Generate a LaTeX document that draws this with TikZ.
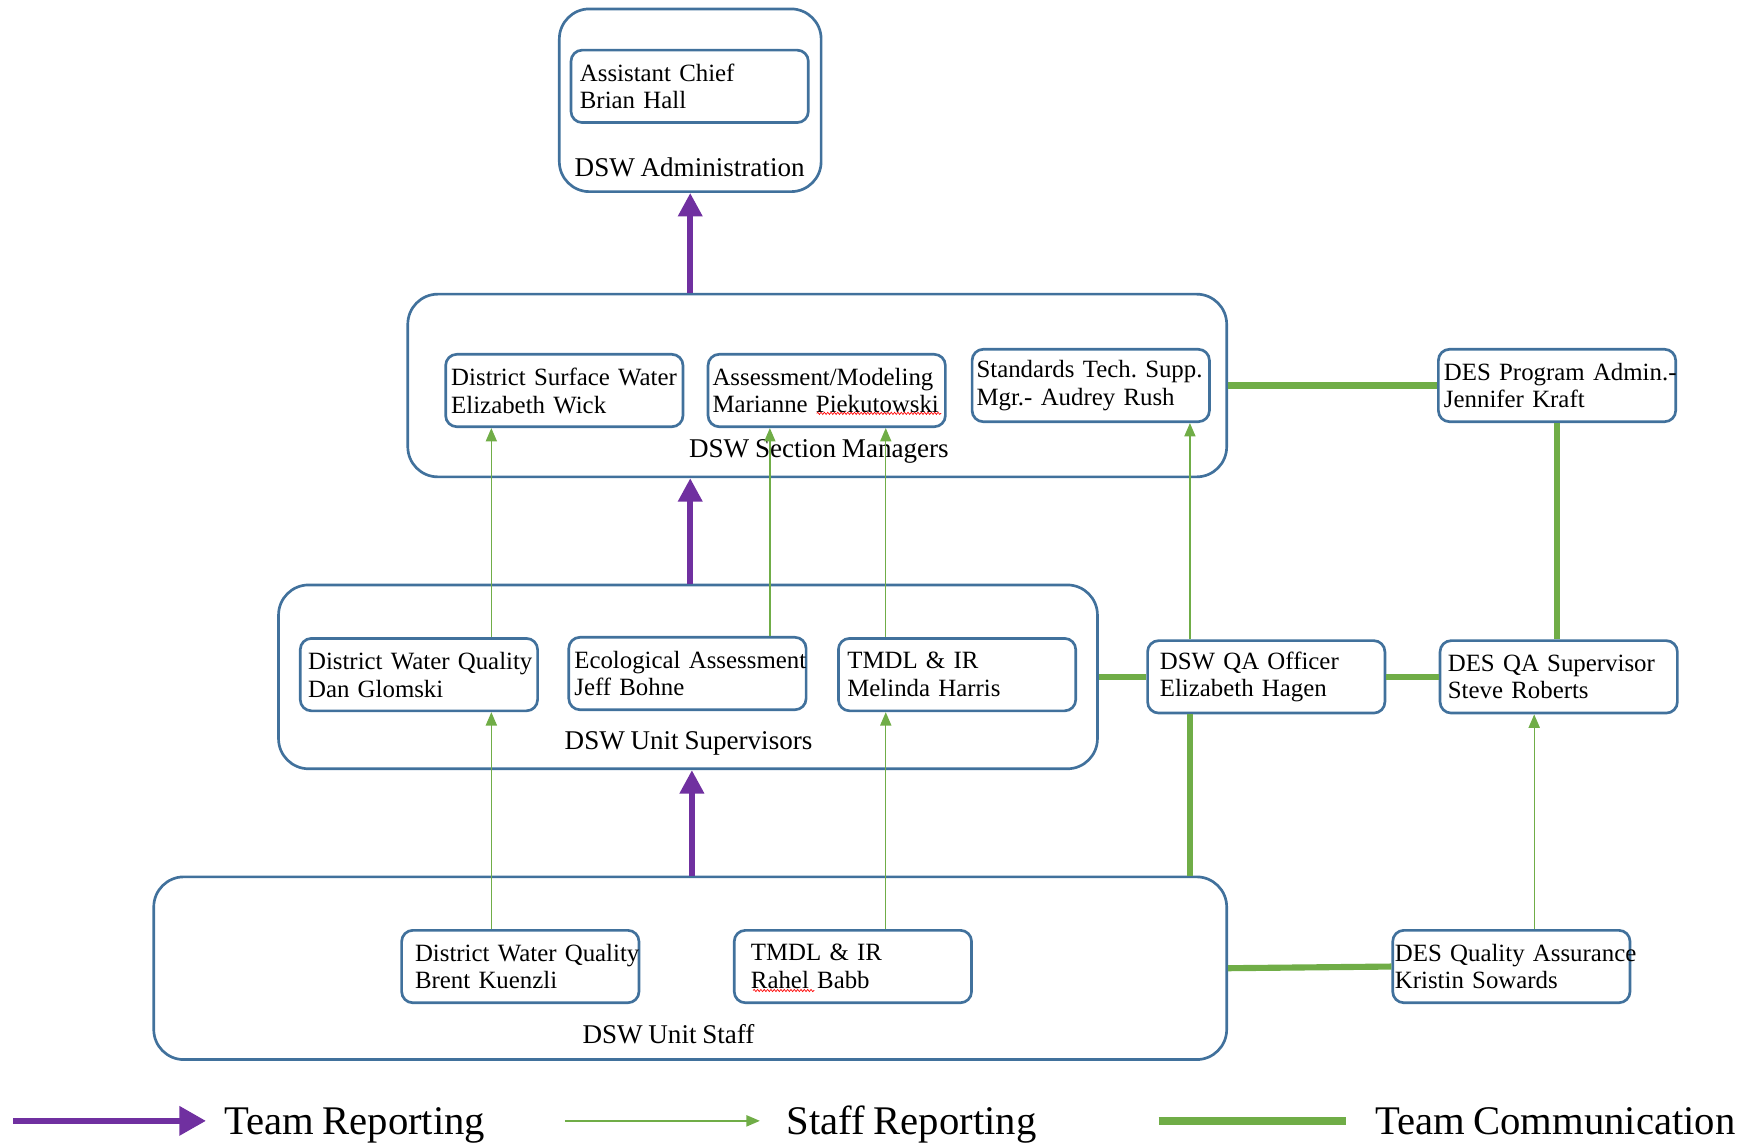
\documentclass[tikz,border=0pt]{standalone}
\usepackage{fontspec}
\setmainfont{Liberation Serif}[WordSpace=0.85]
\usetikzlibrary{arrows.meta,decorations.pathmorphing}
\definecolor{boxblue}{RGB}{65,113,156}
\definecolor{teampurple}{RGB}{112,48,160}
\definecolor{commgreen}{RGB}{112,173,71}
\newcommand{\oneline}[1]{\mbox{#1}}
\frenchspacing
\begin{document}
\begin{tikzpicture}[x=1pt,y=-1pt,
  person/.style={draw=boxblue, line width=2.4pt, rounded corners=10pt, align=left,
    inner xsep=7pt, inner ysep=0pt, minimum width=213pt, text width=199pt,
    minimum height=65pt, font=\fontsize{22.3}{25}\selectfont},
  group/.style={draw=boxblue, line width=2.4pt, rounded corners=27pt, inner sep=0pt},
  grouplabel/.style={font=\fontsize{24.3}{28}\selectfont, inner sep=0pt},
  legendtext/.style={font=\fontsize{36.5}{40}\selectfont, inner sep=0pt, anchor=base west},
  teamrep/.style={draw=teampurple, line width=5pt, -{Triangle[width=21pt,length=21pt]}},
  staffrep/.style={draw=commgreen, line width=1.2pt, -{Triangle[width=10pt,length=12pt]}},
  teamcomm/.style={draw=commgreen, line width=5.5pt},
  spell/.style={draw=red, line width=0.6pt, decorate, decoration={snake, amplitude=1pt, segment length=3pt}}
]
\useasboundingbox (0,0) rectangle (1568,1026);

% group boxes
\node[group, minimum width=235pt, minimum height=164pt] (admin) at (619.5,90) {};
\node[group, minimum width=735pt, minimum height=164pt] (sec) at (733.5,346) {};
\node[group, minimum width=735pt, minimum height=165pt] (unitsup) at (617.5,607.5) {};
\node[group, minimum width=963pt, minimum height=164pt] (staff) at (619.5,869) {};

% group labels
\node[grouplabel] (adminlbl) at (619,150) {DSW Administration};
\node[grouplabel] (seclbl) at (735,405) {DSW Section Managers};
\node[grouplabel] (unitsuplbl) at (618,667) {DSW Unit Supervisors};
\node[grouplabel] (stafflbl) at (600,928) {DSW Unit Staff};

% person boxes
\node[person, inner xsep=8pt, text width=197pt] (chief) at (619,77.5) {\oneline{Assistant Chief}\\\oneline{Brian Hall}};
\node[person, inner xsep=5pt, text width=203pt] (dsw) at (506.5,350.5) {\oneline{District Surface Water}\\\oneline{Elizabeth Wick}};
\node[person, inner xsep=4pt, text width=205pt] (am) at (742,350.5) {\oneline{Assessment/Modeling}\\\oneline{Marianne Piekutowski}};
\node[person, inner xsep=4pt, text width=205pt] (sts) at (979,346) {\oneline{Standards Tech. Supp.}\\\oneline{Mgr.- Audrey Rush}};
\node[person, inner xsep=5pt, text width=203pt] (desadmin) at (1397.5,346) {\oneline{DES Program Admin.-}\\\oneline{Jennifer Kraft}};

\node[person] (dwq) at (376,605.5) {\oneline{District Water Quality}\\\oneline{Dan Glomski}};
\node[person, inner xsep=5pt, text width=203pt] (ea) at (617,604.5) {\oneline{Ecological Assessment}\\\oneline{Jeff Bohne}};
\node[person, inner xsep=8pt, text width=197pt] (tmdl) at (859,605.5) {\oneline{TMDL \& IR}\\\oneline{Melinda Harris}};
\node[person, inner xsep=11pt, text width=191pt] (qa) at (1136.5,607.5) {\oneline{DSW QA Officer}\\\oneline{Elizabeth Hagen}};
\node[person] (desqasup) at (1399,607.5) {\oneline{DES QA Supervisor}\\\oneline{Steve Roberts}};

\node[person, inner xsep=12pt, text width=189pt] (brent) at (467,867.5) {\oneline{District Water Quality}\\\oneline{Brent Kuenzli}};
\node[person, inner xsep=15pt, text width=183pt] (rahel) at (765.5,867.5) {\oneline{TMDL \& IR}\\\oneline{Rahel Babb}};
\node[person, inner xsep=2pt, text width=209pt] (desqa) at (1356.5,867.5) {\oneline{DES Quality Assurance}\\\oneline{Kristin Sowards}};

% spell-check underlines
\draw[spell] (733,371) -- (845,371);
\draw[spell] (676,889) -- (731,889);

% team reporting
\draw[teamrep] (sec.north -| admin.south) -- (admin.south);
\draw[teamrep] (unitsup.north -| admin.south) -- (admin.south |- sec.south);
\draw[teamrep] ([xshift=1.5pt]staff.north) -- ([xshift=1.5pt]staff.north |- unitsup.south);

% staff reporting
\draw[staffrep] ([xshift=65pt]dwq.north) -- ([xshift=65pt]dwq.north |- dsw.south);
\draw[staffrep] ([xshift=74pt]ea.north) -- ([xshift=74pt]ea.north |- am.south);
\draw[staffrep] ([xshift=-64pt]tmdl.north) -- ([xshift=-64pt]tmdl.north |- am.south);
\draw[staffrep] ([xshift=-68.5pt]qa.north) -- ([xshift=-68.5pt]qa.north |- sts.south);
\draw[staffrep] ([xshift=-26pt]brent.north) -- ([xshift=-26pt]brent.north |- dwq.south);
\draw[staffrep] ([xshift=29.5pt]rahel.north) -- ([xshift=29.5pt]rahel.north |- tmdl.south);
\draw[staffrep] ([xshift=20.5pt]desqa.north) -- ([xshift=20.5pt]desqa.north |- desqasup.south);

% team communication
\draw[teamcomm] (sec.east) -- (desadmin.west);
\draw[teamcomm] (desadmin.south) -- (desadmin.south |- desqasup.north);
\draw[teamcomm] (unitsup.east) -- (qa.west);
\draw[teamcomm] (qa.east) -- (desqasup.west);
\draw[teamcomm] ([xshift=-68.5pt]qa.south) -- ([xshift=-68.5pt]qa.south |- staff.north);
\draw[teamcomm] (staff.east) -- (desqa.west);

% legend
\coordinate (l1a) at (12,1006);
\coordinate (l1b) at (185,1006);
\coordinate (l2a) at (507,1006);
\coordinate (l2b) at (682,1006);
\coordinate (l3a) at (1040,1006);
\coordinate (l3b) at (1208,1006);
\draw[draw=teampurple, line width=6pt, -{Triangle[width=25pt,length=24pt]}] (l1a) -- (l1b);
\draw[staffrep] (l2a) -- (l2b);
\draw[teamcomm, line width=7pt] (l3a) -- (l3b);
\node[legendtext] (lt1) at (201,1018) {Team Reporting};
\node[legendtext] (lt2) at (706,1018) {Staff Reporting};
\node[legendtext] (lt3) at (1234,1018) {Team Communication};
\end{tikzpicture}
\end{document}
